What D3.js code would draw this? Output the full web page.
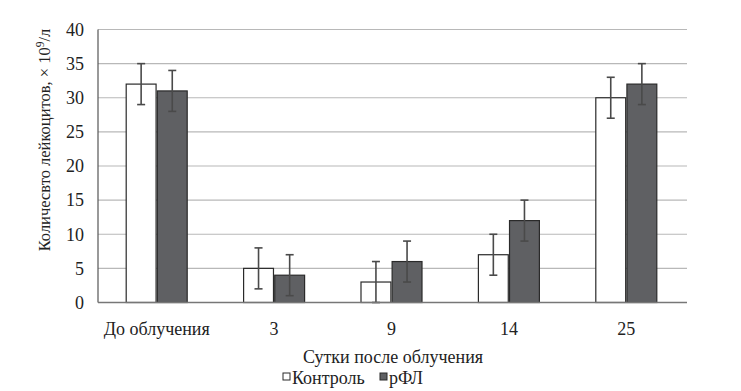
<!DOCTYPE html>
<html>
<head>
<meta charset="utf-8">
<script src="https://cdn.jsdelivr.net/npm/d3@7"></script>
<style>
  body { margin: 0; background: #fff; }
</style>
</head>
<body>
<script>
var w = 741;
var h = 391;

// data
var days = ["До облучения", "3", "9", "14", "25"];
var seriesNames = ["Контроль", "рФЛ"];
var control = [32, 5, 3, 7, 30];
var rfl = [31, 4, 6, 12, 32];
var controlErr = [3, 3, 3, 3, 3];
var rflErr = [3, 3, 3, 3, 3];
var yTicks = [0, 5, 10, 15, 20, 25, 30, 35, 40];

var fills = ["#ffffff", "#5f6063"];
var font = "Liberation Serif";

var svg = d3.select("body").append("svg")
  .attr("width", w)
  .attr("height", h);

var plotL = 98, plotR = 685, plotT = 29.5, plotB = 302.5;

var x = d3.scaleBand()
  .domain(days)
  .range([plotL, plotR]);

var xSub = d3.scaleBand()
  .domain(seriesNames)
  .range([0, 61])
  .paddingInner(0.04);

var y = d3.scaleLinear()
  .domain([0, 40])
  .range([plotB, plotT]);

// gridlines
svg.append("g")
  .selectAll("line")
  .data(yTicks.slice(1))
  .join("line")
  .attr("x1", plotL)
  .attr("x2", plotR + 2)
  .attr("y1", function (d) { return y(d); })
  .attr("y2", function (d) { return y(d); })
  .attr("stroke", "#b8b8b8")
  .attr("stroke-width", 1.2);

// y tick labels
svg.append("g")
  .selectAll("text")
  .data(yTicks)
  .join("text")
  .attr("x", 84)
  .attr("y", function (d) { return y(d); })
  .attr("dy", "0.35em")
  .attr("text-anchor", "end")
  .attr("font-family", font)
  .attr("font-size", 18)
  .attr("fill", "#222")
  .text(function (d) { return d; });

var rows = days.map(function (d, i) {
  return [
    { day: d, s: seriesNames[0], v: control[i], e: controlErr[i], c: fills[0] },
    { day: d, s: seriesNames[1], v: rfl[i], e: rflErr[i], c: fills[1] }
  ];
});

var g = svg.selectAll("g.grp")
  .data(rows)
  .join("g")
  .attr("class", "grp")
  .attr("transform", function (d) {
    return "translate(" + (x(d[0].day) + x.bandwidth() / 2 - 30.5) + ",0)";
  });

g.selectAll("rect")
  .data(function (d) { return d; })
  .join("rect")
  .attr("x", function (d) { return xSub(d.s); })
  .attr("width", xSub.bandwidth())
  .attr("y", function (d) { return y(d.v); })
  .attr("height", function (d) { return y(0) - y(d.v); })
  .attr("fill", function (d) { return d.c; })
  .attr("stroke", "#2a2a2a")
  .attr("stroke-width", 1.2);

// error bars
var eb = g.selectAll("g.err")
  .data(function (d) { return d; })
  .join("g")
  .attr("class", "err")
  .attr("stroke", "#4a4a4a")
  .attr("stroke-width", 1.6);

eb.append("line")
  .attr("x1", function (d) { return xSub(d.s) + xSub.bandwidth() / 2; })
  .attr("x2", function (d) { return xSub(d.s) + xSub.bandwidth() / 2; })
  .attr("y1", function (d) { return y(d.v + d.e); })
  .attr("y2", function (d) { return y(d.v - d.e); });

eb.selectAll("line.cap")
  .data(function (d) { return [d.v + d.e, d.v - d.e].map(function (v) { return { s: d.s, v: v }; }); })
  .join("line")
  .attr("class", "cap")
  .attr("x1", function (d) { return xSub(d.s) + xSub.bandwidth() / 2 - 4; })
  .attr("x2", function (d) { return xSub(d.s) + xSub.bandwidth() / 2 + 4; })
  .attr("y1", function (d) { return y(d.v); })
  .attr("y2", function (d) { return y(d.v); });

// axes lines
svg.append("line")
  .attr("x1", plotL).attr("x2", plotL)
  .attr("y1", plotT).attr("y2", plotB)
  .attr("stroke", "#555").attr("stroke-width", 1.2);
svg.append("line")
  .attr("x1", plotL).attr("x2", plotR + 2)
  .attr("y1", plotB).attr("y2", plotB)
  .attr("stroke", "#777").attr("stroke-width", 1.5);

// x labels
svg.append("g")
  .selectAll("text")
  .data(days)
  .join("text")
  .attr("x", function (d) { return x(d) + x.bandwidth() / 2; })
  .attr("y", 335)
  .attr("text-anchor", "middle")
  .attr("font-family", font)
  .attr("font-size", 18)
  .attr("fill", "#222")
  .text(function (d) { return d; });

svg.append("text")
  .attr("x", 393)
  .attr("y", 363)
  .attr("text-anchor", "middle")
  .attr("font-family", font)
  .attr("font-size", 18)
  .attr("fill", "#222")
  .text("Сутки после облучения");

svg.append("text")
  .attr("transform", "translate(50,140) rotate(-90)")
  .attr("text-anchor", "middle")
  .attr("font-family", font)
  .attr("font-size", 16.5)
  .attr("fill", "#222")
  .html("Количесвто лейкоцитов, × 10<tspan dy='-6' font-size='11.5'>9</tspan><tspan dy='6'>/л</tspan>");

// legend
var legX = [283, 380];
var leg = svg.selectAll("g.leg")
  .data(seriesNames)
  .join("g")
  .attr("class", "leg")
  .attr("transform", function (d, i) { return "translate(" + legX[i] + ",373)"; });
leg.append("rect")
  .attr("width", 7).attr("height", 7)
  .attr("fill", function (d, i) { return fills[i]; })
  .attr("stroke", "#2a2a2a").attr("stroke-width", 1);
leg.append("text")
  .attr("x", 9)
  .attr("y", 11)
  .attr("font-family", font)
  .attr("font-size", 18)
  .attr("fill", "#222")
  .text(function (d) { return d; });
</script>
</body>
</html>
